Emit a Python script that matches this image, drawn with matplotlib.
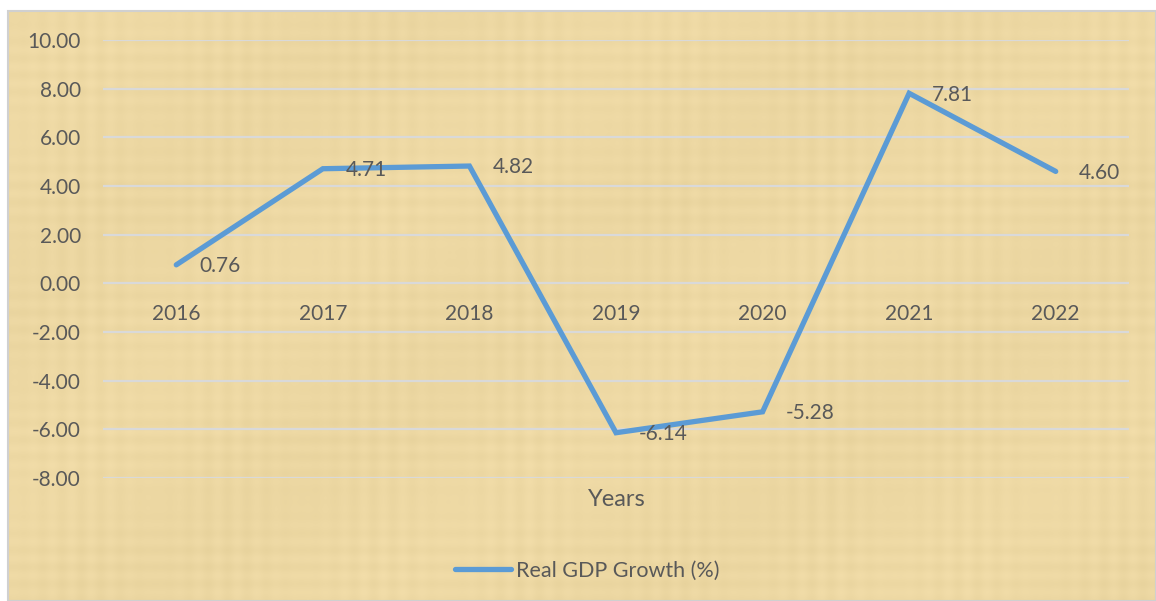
import numpy as np
import matplotlib.pyplot as plt
from matplotlib.patches import Rectangle

years = ["2016", "2017", "2018", "2019", "2020", "2021", "2022"]
growth = [0.76, 4.71, 4.82, -6.14, -5.28, 7.81, 4.60]
y_ticks = [-8, -6, -4, -2, 0, 2, 4, 6, 8, 10]

TEXT = "#595959"
LINE = "#5B9BD5"
GRID = "#D9D9D9"

plt.rcParams["font.family"] = ["Lato", "DejaVu Sans"]

fig = plt.figure(figsize=(11.56, 6.01), dpi=100)
fig.patch.set_facecolor("white")

# papyrus-like backdrop for the chart area
bg = fig.add_axes([8 / 1156, 0, 1 - 8 / 1156, 1 - 11 / 601], zorder=0)
h, w = 590, 1148
yy, xx = np.mgrid[0:h, 0:w]
weave = (0.5 * np.sin(xx / 3.1) * np.sin(xx / 47.0)
         + 0.5 * np.sin(yy / 2.7) * np.sin(yy / 39.0)
         + 0.35 * np.sin(xx / 83.0 + yy / 61.0))
base = np.array([237, 216, 163]) / 255.0
tex = base[None, None, :] + 0.016 * weave[..., None] * np.array([1.0, 1.0, 1.2])
bg.imshow(np.clip(tex, 0, 1), aspect="auto", interpolation="bilinear")
bg.set_axis_off()
fig.add_artist(Rectangle((8 / 1156, 0), 1 - 8 / 1156, 1 - 11 / 601,
                         transform=fig.transFigure, fill=False,
                         edgecolor="#D0D0D0", linewidth=1.5, zorder=1))

ax = fig.add_axes([103 / 1156, 1 - 478 / 601, 1026 / 1156, 438 / 601], zorder=2)
ax.patch.set_alpha(0)

x = np.arange(len(years))
ax.plot(x, growth, color=LINE, linewidth=3.8, solid_capstyle="round",
        solid_joinstyle="miter", label="Real GDP Growth (%)", zorder=3)

for xi, v in zip(x, growth):
    ax.annotate(f"{v:.2f}", (xi, v), xytext=(16.5, -1), textcoords="offset points",
                ha="left", va="center", fontsize=15, color=TEXT, zorder=4)

ax.set_xlim(-0.5, len(years) - 0.5)
ax.set_ylim(-8, 10)
ax.set_yticks(y_ticks)
ax.set_yticklabels([f"{t:.2f}" for t in y_ticks])
ax.grid(axis="y", color=GRID, linewidth=1.6)
ax.set_axisbelow(True)

ax.set_xticks(x)
ax.set_xticklabels(years)
ax.spines["bottom"].set_position(("data", 0))
for s in ax.spines.values():
    s.set_visible(False)
ax.tick_params(axis="x", length=0, pad=15, labelsize=15, labelcolor=TEXT)
ax.tick_params(axis="y", length=0, pad=16, labelsize=15, labelcolor=TEXT)

fig.text(617 / 1156, 1 - 500 / 601, "Years", ha="center", va="center",
         fontsize=17, color=TEXT)

leg = ax.legend(loc="center", bbox_to_anchor=(587 / 1156, 1 - 571 / 601),
                bbox_transform=fig.transFigure, frameon=False, fontsize=15.5,
                handlelength=2.6, handletextpad=0.25)
for t in leg.get_texts():
    t.set_color(TEXT)

fig.savefig("out.png", dpi=100, facecolor="white")
